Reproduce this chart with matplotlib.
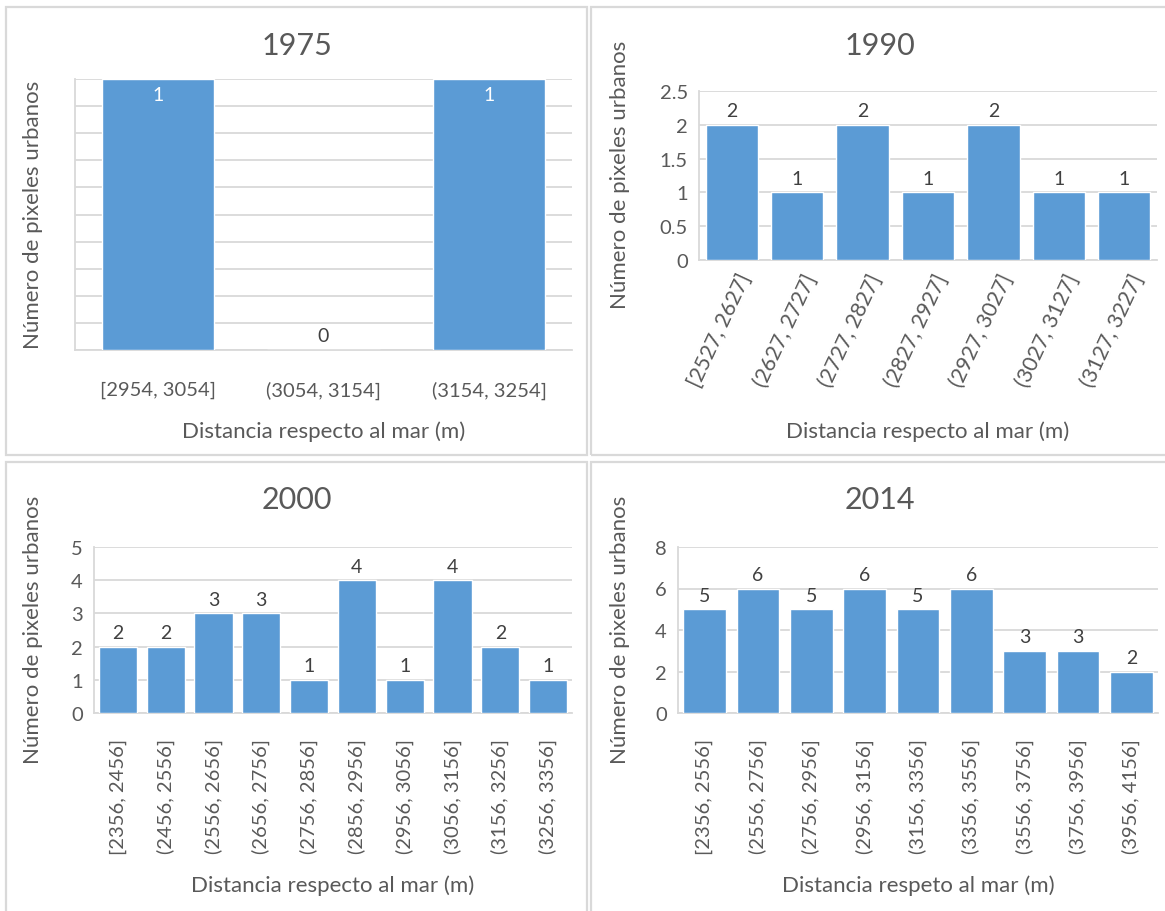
import matplotlib
matplotlib.use("Agg")
import matplotlib.pyplot as plt
import matplotlib.transforms as mtransforms
from matplotlib.patches import Rectangle

plt.rcParams['font.family'] = ['Lato', 'DejaVu Sans']

# Histogram counts of urban pixels by distance to the sea
labels_1975 = ["[2954, 3054]", "(3054, 3154]", "(3154, 3254]"]
counts_1975 = [1, 0, 1]

labels_1990 = ["[2527, 2627]", "(2627, 2727]", "(2727, 2827]", "(2827, 2927]",
               "(2927, 3027]", "(3027, 3127]", "(3127, 3227]"]
counts_1990 = [2, 1, 2, 1, 2, 1, 1]

labels_2000 = ["[2356, 2456]", "(2456, 2556]", "(2556, 2656]", "(2656, 2756]",
               "(2756, 2856]", "(2856, 2956]", "(2956, 3056]", "(3056, 3156]",
               "(3156, 3256]", "(3256, 3356]"]
counts_2000 = [2, 2, 3, 3, 1, 4, 1, 4, 2, 1]

labels_2014 = ["[2356, 2556]", "(2556, 2756]", "(2756, 2956]", "(2956, 3156]",
               "(3156, 3356]", "(3356, 3556]", "(3556, 3756]", "(3756, 3956]",
               "(3956, 4156]"]
counts_2014 = [5, 6, 5, 6, 5, 6, 3, 3, 2]

W, H = 1165, 912
BAR = "#5B9BD5"
GRID = "#D9D9D9"
TXT = "#595959"
LBL = "#404040"
TICK_FS = 14.5
AXIS_FS = 16
VAL_FS = 14

fig = plt.figure(figsize=(W / 100, H / 100), dpi=100)


def px_rect(l, t, r, b):
    return [l / W, 1 - b / H, (r - l) / W, (b - t) / H]


# chart frames
for (l, t, r, b) in [(6, 8, 587, 456), (591, 8, 1175, 456),
                     (6, 463, 587, 922), (591, 463, 1175, 922)]:
    fig.patches.append(Rectangle((l / W, 1 - b / H), (r - l) / W, (b - t) / H,
                                 transform=fig.transFigure, fill=False,
                                 edgecolor=GRID, linewidth=1.6))


def panel(rect, labels, counts, title, ymax, ystep, rot, xlabel, ylab_pos,
          bar_width=0.8, show_yticks=True, inside=False):
    ax = fig.add_axes(px_rect(*rect))
    x = list(range(len(counts)))
    ax.bar(x, counts, width=bar_width, color=BAR, edgecolor="white",
           linewidth=1.0, zorder=3)
    ax.set_xlim(-0.5, len(counts) - 0.5)
    ax.set_ylim(0, ymax)
    n = int(round(ymax / ystep))
    ticks = [i * ystep for i in range(n + 1)]
    ax.set_yticks(ticks)
    if show_yticks:
        ax.set_yticklabels([f"{t:g}" for t in ticks])
    else:
        ax.set_yticklabels([])
    ax.grid(axis="y", color=GRID, linewidth=1.3, zorder=0)
    ax.set_axisbelow(True)
    for s in ["top", "right"]:
        ax.spines[s].set_visible(False)
    for s in ["left", "bottom"]:
        ax.spines[s].set_color(GRID)
        ax.spines[s].set_linewidth(1.3)
    ax.tick_params(axis="both", length=0, colors=TXT, labelsize=TICK_FS)
    ax.tick_params(axis="y", pad=8)
    ax.set_xticks(x)
    if rot == 0:
        ax.set_xticklabels(labels, fontsize=TICK_FS)
        ax.tick_params(axis="x", pad=22)
    elif rot == 90:
        ax.set_xticklabels(labels, rotation=90, ha="center", va="top",
                           fontsize=TICK_FS)
        ax.tick_params(axis="x", pad=18)
    else:
        ax.set_xticklabels(labels, rotation=rot, ha="right", va="center",
                           rotation_mode="anchor", fontsize=15.5)
        ax.tick_params(axis="x", pad=10)
        shift = mtransforms.ScaledTranslation(14 / 100, 0, fig.dpi_scale_trans)
        for lab in ax.get_xticklabels():
            lab.set_transform(lab.get_transform() + shift)

    for xi, c in zip(x, counts):
        if inside and c >= ymax:
            ax.annotate(f"{c}", (xi, c), xytext=(0, -5),
                        textcoords="offset points", ha="center", va="top",
                        color="white", fontsize=VAL_FS, zorder=4)
        else:
            ax.annotate(f"{c}", (xi, c), xytext=(0, 4),
                        textcoords="offset points", ha="center", va="bottom",
                        color=LBL, fontsize=VAL_FS, zorder=4)

    fig.text(title[1] / W, 1 - title[2] / H, title[0], ha="center",
             va="center", fontsize=22, color=TXT)
    fig.text((rect[0] + rect[2]) / 2 / W, 1 - xlabel[1] / H, xlabel[0],
             ha="center", va="center", fontsize=AXIS_FS, color=TXT)
    fig.text(ylab_pos[0] / W, 1 - ylab_pos[1] / H, "Número de pixeles urbanos",
             rotation=90, ha="center", va="center", fontsize=AXIS_FS,
             color=TXT)
    return ax


panel((75, 80, 572, 351), labels_1975, counts_1975, ("1975", 297, 46), 1, 0.1, 0,
      ("Distancia respecto al mar (m)", 432), (33, 215),
      bar_width=0.68, show_yticks=False, inside=True)
panel((699, 92, 1157, 261), labels_1990, counts_1990, ("1990", 880, 46), 2.5, 0.5,
      65, ("Distancia respecto al mar (m)", 432), (620, 175))
panel((94, 548, 572, 714), labels_2000, counts_2000, ("2000", 297, 500), 5, 1, 90,
      ("Distancia respecto al mar (m)", 886), (33, 630))
panel((678, 548, 1158, 714), labels_2014, counts_2014, ("2014", 880, 500), 8, 2,
      90, ("Distancia respeto al mar (m)", 886), (620, 630))

fig.savefig("out.png", dpi=100, facecolor="white")
